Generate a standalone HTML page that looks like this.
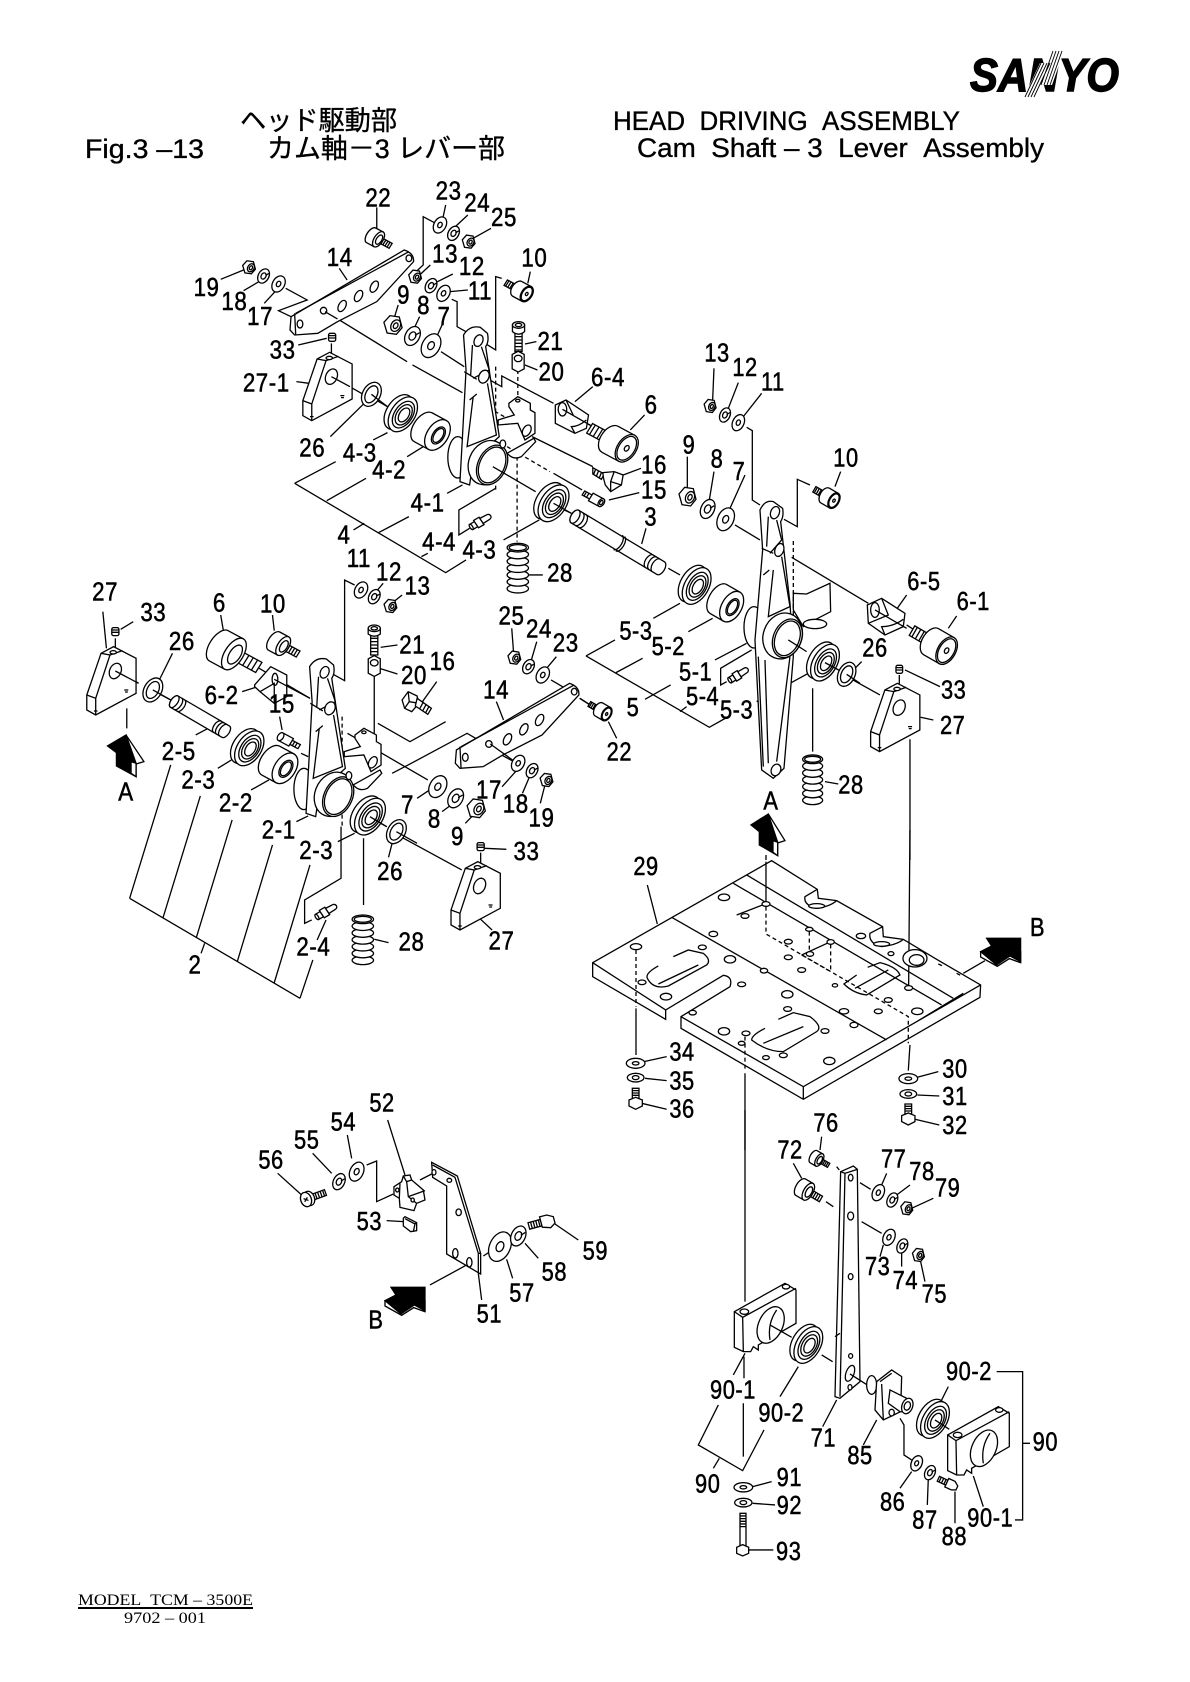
<!DOCTYPE html>
<html><head><meta charset="utf-8"><style>
html,body{margin:0;padding:0;background:#fff}
svg{display:block}
svg *{vector-effect:non-scaling-stroke}
text{fill:#000;stroke:none;font-family:"Liberation Sans","Noto Sans CJK JP",sans-serif;vector-effect:none}
.z text{font-size:78px;letter-spacing:2px;stroke:#000;stroke-width:1.6px}
.h{stroke:#000;stroke-width:.35px}
.l{fill:none}
.d{fill:none;stroke-dasharray:4 3}
.k{fill:#000}
</style></head><body>
<svg width="1190" height="1682" viewBox="0 0 1190 1682" xmlns="http://www.w3.org/2000/svg" fill="#fff" stroke="#000" stroke-width="1.3">
<defs>
<g id="w"><ellipse rx="20" ry="30" transform="rotate(25)"/><ellipse rx="7" ry="10" transform="rotate(25)"/></g>
<g id="lw"><ellipse rx="20" ry="30" transform="rotate(25)"/><ellipse rx="9" ry="13" transform="rotate(25)"/><path d="M7,-2L20,-10" class="l"/></g>
<g id="ri"><ellipse rx="25" ry="38" transform="rotate(25)"/><ellipse rx="16" ry="27" transform="rotate(25)"/></g>
<g id="n"><path d="M-25,-8L-8,-28L18,-24L26,8L10,28L-16,24Z"/><ellipse cx="8" cy="2" rx="13" ry="18" transform="rotate(25 8 2)"/><ellipse cx="8" cy="2" rx="6" ry="9" transform="rotate(25 8 2)"/></g>
<g id="rr"><g transform="rotate(30)"><rect x="-80" y="-11" width="46" height="22"/><path class="l" d="M-74,-11v22M-66,-11v22M-58,-11v22M-50,-11v22M-42,-11v22"/><path d="M0,-30L-36,-30A18,30 0 0 0 -36,30L0,30Z"/><ellipse rx="18" ry="30"/><ellipse rx="15" ry="26"/><ellipse rx="4" ry="6"/></g></g>
<g id="rl"><g transform="rotate(30)"><rect x="6" y="-10" width="40" height="20"/><path class="l" d="M14,-10v20M22,-10v20M30,-10v20M38,-10v20"/><path d="M0,-30L-28,-30A15,30 0 0 0 -28,30L0,30Z"/><ellipse rx="15" ry="30"/><ellipse cx="2" rx="9" ry="18"/></g></g>
<g id="be"><g transform="rotate(30)"><ellipse cx="-14" rx="36" ry="60"/><ellipse rx="36" ry="60"/><ellipse cx="2" rx="27" ry="46"/><ellipse cx="3" rx="21" ry="35"/><ellipse cx="4" rx="14" ry="24"/></g></g>
<g id="wr"><g transform="rotate(30)"><path d="M0,-50L-46,-50A28,50 0 0 0 -46,50L0,50Z"/><ellipse rx="30" ry="50"/><ellipse cx="3" rx="16" ry="28"/><ellipse cx="3" rx="12" ry="23"/></g></g>
<g id="sp"><ellipse cy="136" rx="30" ry="13"/><ellipse cy="115.5" rx="30" ry="13"/><ellipse cy="95" rx="30" ry="13"/><ellipse cy="74.5" rx="30" ry="13"/><ellipse cy="54" rx="30" ry="13"/><ellipse cy="33.5" rx="30" ry="13"/><ellipse cy="13" rx="30" ry="13"/><ellipse cy="13" rx="24" ry="9"/></g>
<g id="ss"><rect x="-10" y="-12" width="20" height="24" rx="5"/><path class="l" d="M-10,-5h20M-10,2h20"/></g>
<g id="gn"><g transform="rotate(-32)"><rect x="-30" y="-9" width="16" height="18"/><rect x="-14" y="-13" width="18" height="26"/><path d="M4,-9L26,-8A8,8 0 0 1 26,8L4,9Z"/><ellipse cx="-30" rx="4" ry="9"/></g></g>
<g id="b27"><path d="M0,0L0,45L25,60L138,-5L138,-110L75,-145L40,-125Z"/><path class="l" d="M0,0L25,10L25,60M25,10L65,-120L40,-125M65,-120L100,-133"/><ellipse cx="80" cy="-72" rx="16" ry="24" transform="rotate(20 80 -72)"/><ellipse cx="74" cy="-128" rx="9" ry="5"/><path class="d" stroke-dasharray="2 2" d="M105,-15h12v6h-10M20,48h10"/></g>
<g id="ar"><path d="M0,0L50,80L28,87L15,72Z"/><path class="k" d="M-52,33L0,0L28,85L28,125L-27,93L-27,53Z"/><path d="M28,85L28,125L14,115L14,80Z"/></g>
<g id="ba"><path d="M-120,40L-120,56L-70,84L-34,61L0,73L0,40Z"/><path class="k" d="M-102,0L0,0L0,70L-32,53L-72,80L-120,40L-87,23Z"/></g>
<g id="pl"><path d="M395,440L712,240Q740,250 738,275L635,395L525,455L470,490L405,495L392,480Z"/><path class="l" d="M408,430L725,245M405,430L408,493"/><ellipse cx="420" cy="462" rx="8" ry="12"/><ellipse cx="486" cy="422" rx="9" ry="10"/><ellipse cx="538" cy="408" rx="10" ry="18" transform="rotate(25 538 408)"/><ellipse cx="584" cy="378" rx="10" ry="18" transform="rotate(25 584 378)"/><ellipse cx="628" cy="350" rx="10" ry="18" transform="rotate(25 628 350)"/><ellipse cx="725" cy="265" rx="8" ry="10"/></g>
<g id="lev"><ellipse cx="862" cy="862" rx="28" ry="62"/><path d="M878,495Q895,465 925,472L945,490Q950,515 940,530L978,800L905,870L895,945L868,935L875,800L885,600Z"/><path class="l" d="M903,525L898,615M928,530L950,600L905,625M880,605L915,628M905,680L888,830L970,795L945,640M915,672L895,690"/><ellipse cx="920" cy="512" rx="12" ry="18" transform="rotate(20 920 512)"/><ellipse cx="935" cy="620" rx="14" ry="20" transform="rotate(20 935 620)"/><ellipse cx="945" cy="878" rx="52" ry="68" transform="rotate(20 945 878)"/><ellipse cx="958" cy="885" rx="40" ry="62" transform="rotate(22 958 885)"/><ellipse cx="958" cy="885" rx="35" ry="56" transform="rotate(22 958 885)"/><path d="M1005,700L1030,680L1065,700L1065,720L1078,728L1078,790L1050,810L1030,760L975,765L975,750L1020,735L1005,710Z"/><ellipse cx="1055" cy="782" rx="11" ry="18" transform="rotate(25 1055 782)"/><ellipse cx="1030" cy="692" rx="6" ry="4"/><path d="M1000,850L1075,805L1080,815L1040,860Q1020,870 1005,855Z"/><ellipse cx="988" cy="822" rx="8" ry="12"/></g>
<g id="bl"><path d="M163,605L315,520L348,540L348,640L235,705L235,720L220,710L212,725L190,725L163,712Z"/><path class="l" d="M163,605L188,622L348,535M188,622L190,725"/><ellipse cx="193" cy="605" rx="13" ry="8"/><ellipse cx="318" cy="530" rx="11" ry="7"/><ellipse cx="272" cy="645" rx="36" ry="58" transform="rotate(25 272 645)"/><path class="l" d="M290,600Q262,640 270,690"/></g>
<g id="bv"><path d="M-14,-18L0,-26L14,-18L14,18L0,26L-14,18Z"/><ellipse cy="-8" rx="9" ry="8"/></g>
</defs>

<!-- header -->
<text class="h" x="613" y="130" font-size="27" textLength="347" lengthAdjust="spacingAndGlyphs">HEAD&#160;&#160;DRIVING&#160;&#160;ASSEMBLY</text>
<text class="h" x="637" y="157" font-size="27" textLength="407" lengthAdjust="spacingAndGlyphs">Cam&#160;&#160;Shaft – 3&#160;&#160;Lever&#160;&#160;Assembly</text>
<text class="h" x="85" y="158" font-size="27" textLength="119" lengthAdjust="spacingAndGlyphs">Fig.3 –13</text>
<text class="h" x="240" y="130" font-size="27" textLength="157" lengthAdjust="spacingAndGlyphs">ヘッド駆動部</text>
<text class="h" x="267" y="158" font-size="27" textLength="238" lengthAdjust="spacingAndGlyphs">カム軸－3 レバー部</text>
<text x="970" y="91" font-size="46" font-weight="bold" font-style="italic" textLength="149" lengthAdjust="spacingAndGlyphs" style="stroke:#000;stroke-width:1.4px">SANYO</text>
<path d="M1024,97L1034,97L1050,63L1040,63Z" stroke="none"/><path d="M1052,51L1064,51L1052,85L1040,85Z" stroke="none"/>
<path class="l" stroke-width=".9" d="M1025,97L1041,63M1028,97L1044,63M1031,97L1047,63M1034,97L1050,63M1053,51L1041,85M1056,51L1044,85M1059,51L1047,85M1062,51L1050,85"/>
<text x="78" y="1605" font-size="15.5" style="font-family:'Liberation Serif',serif" textLength="175" lengthAdjust="spacingAndGlyphs">MODEL&#160;&#160;TCM – 3500E</text>
<path class="l" stroke-width="2" d="M78,1608H253"/>
<text x="124" y="1623" font-size="15.5" style="font-family:'Liberation Serif',serif" textLength="82" lengthAdjust="spacingAndGlyphs">9702 – 001</text>

<!-- top assembly -->
<g class="z" transform="translate(150,170) scale(.3571,.3333)">
<path class="l" d="M635,112L635,180M828,105L820,145M800,160L765,140L765,285L745,305M890,135L855,170M955,175L905,205M530,295L552,330M785,285L755,315M848,312L805,335M890,360L840,365M1065,305L1058,340M198,328L262,300M262,362L305,335M320,400L350,365M695,405L685,440M755,440L742,470M820,460L805,495M380,355L440,390L360,422L395,440M500,430L720,575M735,585L875,668M1070,800L1240,890M815,545L880,590M935,620L985,650L985,618L1130,700M1165,725L1240,770M985,325L968,320L968,540L935,518M845,388L860,395L860,470L885,485M1082,515L1050,522M1085,600L1050,585M415,525L495,505M508,520L508,565M410,635L445,640M510,620L600,675M625,685L665,710M505,800L600,700M625,810L665,788M720,860L765,830M405,940L520,875M495,992L605,925M405,940L828,1208L885,1170M640,1088L725,1040M570,1080L600,1060M760,1160L778,1150M832,970L875,945M990,1110L1090,1050M1140,1010L1180,1030M968,955L865,1020L865,1095L895,1075M1060,1215L1100,1215M1190,695L1240,650M1345,780L1385,735M1325,915L1375,895M1285,990L1370,968M1130,910L1210,960"/>
<path class="d" d="M880,672L1000,745M968,590L968,960M1030,600L1030,680M1028,860L1028,1115M1000,830L1120,905"/>
<use href="#pl"/>
<path class="l" d="M490,425L525,447"/>
<use href="#rl" transform="translate(640,208) scale(.85)"/>
<use href="#w" transform="translate(812,165) scale(.85)"/><use href="#lw" transform="translate(850,190) scale(.75)"/><use href="#n" transform="translate(892,215) scale(.7)"/>
<use href="#n" transform="translate(742,320) scale(.7)"/><use href="#lw" transform="translate(787,347) scale(.75)"/><use href="#w" transform="translate(822,370) scale(.85)"/>
<use href="#n" transform="translate(680,465)"/><use href="#lw" transform="translate(735,498)"/><use href="#w" transform="translate(787,527) scale(1.25)"/>
<use href="#w" transform="translate(360,342) scale(.85)"/><use href="#lw" transform="translate(318,318) scale(.75)"/><use href="#n" transform="translate(277,292) scale(.7)"/>
<use href="#rr" transform="translate(1055,372) scale(.85)"/>
<use href="#ss" transform="translate(510,502)"/>
<use href="#b27" transform="translate(428,692)"/>
<path class="l" d="M508,620L560,650"/>
<use href="#ri" transform="translate(620,673)"/>
<path class="l" d="M620,673L665,710"/>
<use href="#be" transform="translate(708,733) scale(.95)"/>
<use href="#wr" transform="translate(805,795)"/>
<use href="#lev"/>
<path class="l" d="M960,890L1080,965"/>
<use href="#be" transform="translate(1130,1000)"/>
<path class="l" d="M1130,1000L1180,1030"/>
<use href="#sp" transform="translate(1030,1120)"/>
<use href="#gn" transform="translate(925,1055)"/>
<!-- 21 bolt -->
<path d="M1022,490V545H1042V490Z"/><path class="l" d="M1022,500h20M1022,510h20M1022,520h20M1022,530h20M1022,540h20"/><path d="M1015,465L1015,485Q1032,500 1049,485L1049,465Z"/><ellipse cx="1032" cy="465" rx="17" ry="10"/><ellipse cx="1032" cy="465" rx="9" ry="5"/>
<use href="#bv" transform="translate(1031,575) scale(1.2)"/>
<!-- 6-4 -->
<path d="M1135,705L1165,690L1228,735L1222,775L1190,790L1135,760Z"/><ellipse cx="1155" cy="718" rx="12" ry="20"/><path class="l" d="M1165,690L1185,735M1190,790L1180,770Q1200,770 1222,750M1155,718L1240,770"/>
<use href="#rr" transform="translate(1335,835) scale(1.5)"/>
<!-- 16 -->
<path d="M1240,893L1272,912L1264,928L1240,912Z"/><path class="l" d="M1248,898L1242,914M1256,903L1250,919M1264,908L1258,924"/>
<path d="M1268,908L1300,905L1325,915L1320,945L1290,965L1275,945L1270,925Z"/><path class="l" d="M1300,905L1290,935L1320,945M1290,935L1290,965"/>
<!-- 15 -->
<g transform="translate(1250,990) rotate(30)"><rect x="-42" y="-7" width="24" height="14"/><path class="l" d="M-36,-7v14M-28,-7v14"/><rect x="-18" y="-13" width="34" height="26"/><ellipse cx="16" rx="8" ry="13"/><ellipse cx="16" rx="4" ry="7"/></g>
<text transform="matrix(.8 0 0 1 603 110)">22</text><text transform="matrix(.8 0 0 1 800 88)">23</text><text transform="matrix(.8 0 0 1 880 125)">24</text><text transform="matrix(.8 0 0 1 955 168)">25</text><text transform="matrix(.8 0 0 1 495 288)">14</text><text transform="matrix(.8 0 0 1 790 278)">13</text><text transform="matrix(.8 0 0 1 865 315)">12</text><text transform="matrix(.8 0 0 1 1040 290)">10</text><text transform="matrix(.8 0 0 1 122 378)">19</text><text transform="matrix(.8 0 0 1 200 420)">18</text><text transform="matrix(.8 0 0 1 272 465)">17</text><text transform="matrix(.8 0 0 1 692 400)">9</text><text transform="matrix(.8 0 0 1 748 432)">8</text><text transform="matrix(.8 0 0 1 805 465)">7</text><text transform="matrix(.8 0 0 1 890 388)">11</text><text transform="matrix(.8 0 0 1 1085 540)">21</text><text transform="matrix(.8 0 0 1 1088 632)">20</text><text transform="matrix(.8 0 0 1 335 565)">33</text><text transform="matrix(.8 0 0 1 260 665)">27-1</text><text transform="matrix(.8 0 0 1 1235 648)">6-4</text><text transform="matrix(.8 0 0 1 1385 730)">6</text><text transform="matrix(.8 0 0 1 418 860)">26</text><text transform="matrix(.8 0 0 1 540 875)">4-3</text><text transform="matrix(.8 0 0 1 622 925)">4-2</text><text transform="matrix(.8 0 0 1 1375 910)">16</text><text transform="matrix(.8 0 0 1 1375 985)">15</text><text transform="matrix(.8 0 0 1 730 1025)">4-1</text><text transform="matrix(.8 0 0 1 525 1120)">4</text><text transform="matrix(.8 0 0 1 762 1142)">4-4</text><text transform="matrix(.8 0 0 1 875 1165)">4-3</text><text transform="matrix(.8 0 0 1 1112 1235)">28</text>
</g>

<!-- left assembly -->
<g class="z" transform="translate(60,560) scale(.3571,.3333)">
<path class="l" d="M120,155L130,265M205,185L170,208M450,165L458,215M595,165L600,212M315,280L278,360M825,75L797,60L797,362L760,340M905,70L885,95M958,105L935,125M945,255L898,262M945,342L895,325M1055,365L1015,425M880,340L880,520M175,340L220,370M275,400L310,420M550,320L700,415M510,395L548,382M615,470L622,510M675,580L695,590M380,525L415,505M442,625L480,600M535,690L585,660M662,785L695,768M778,845L825,820M805,520L1030,660M1080,485L980,545L890,490M930,640L975,615L1140,520L1180,545M1210,570L1280,610M1455,415L1500,445M1375,360L1415,385M1265,205L1270,275M1335,245L1320,300M1390,290L1365,322M1222,425L1242,480M1238,680L1280,630M1295,700L1315,650M1345,730L1358,675M1000,715L1035,690M1070,755L1095,735M1135,790L1155,768M920,892L930,850M1190,865L1250,868M1178,1078L1210,1110M945,825L1125,930M880,780L915,800M850,835L850,1035M787,800L787,955L685,1020L685,1090L705,1080M195,1015L672,1315M195,1015L310,615M288,1075L393,708M382,1132L482,780M497,1203L595,855M600,1268L700,915M672,1315L708,1200M395,1180L405,1150M720,1140L745,1080M187,445L187,505M155,235L155,265M1178,878L1178,920M880,1138L920,1148"/>
<path class="d" d="M790,470L790,800"/>
<use href="#w" transform="translate(843,90) scale(.85)"/><use href="#lw" transform="translate(880,110) scale(.75)"/><use href="#n" transform="translate(925,138) scale(.7)"/>
<use href="#ss" transform="translate(155,215)"/><use href="#ss" transform="translate(1178,860)"/>
<use href="#b27" transform="translate(75,405)"/><use href="#b27" transform="translate(1095,1050)"/>
<path class="l" d="M155,333L220,370"/>
<use href="#ri" transform="translate(260,390)"/>
<path class="l" d="M260,390L310,420"/>
<use href="#rl" transform="translate(487,282) scale(1.75)"/>
<use href="#rl" transform="translate(625,258) scale(1.05)"/>
<!-- 6-2 -->
<path d="M545,375L590,320L635,345L635,410L600,430L560,395L545,380Z"/><ellipse cx="602" cy="358" rx="8" ry="18"/>
<path class="l" d="M560,395L600,370L600,430M600,358L700,415"/>
<use href="#pl" transform="translate(715,130)"/>
<path class="l" d="M1205,552L1280,610"/>
<!-- shaft 2-5 -->
<g transform="translate(320,425) rotate(32)"><path d="M0,-20L170,-20A10,20 0 0 1 170,20L0,20A10,20 0 0 1 0,-20Z"/><ellipse rx="10" ry="20"/><path class="l" d="M12,-20A10,20 0 0 1 12,20M22,-20A10,20 0 0 1 22,20M142,-20A10,20 0 0 0 142,20M152,-20A10,20 0 0 0 152,20M162,-20A10,20 0 0 0 162,20"/></g>
<use href="#be" transform="translate(530,565) scale(.95)"/>
<use href="#wr" transform="translate(630,625)"/>
<use href="#lev" transform="translate(-179,-175)"/>
<use href="#be" transform="translate(868,770)"/>
<path class="l" d="M868,770L915,800"/>
<use href="#ri" transform="translate(942,815)"/>
<path class="l" d="M942,815L1000,850"/>
<use href="#sp" transform="translate(848,1065)"/>
<use href="#gn" transform="translate(745,1055)"/>
<use href="#w" transform="translate(1058,680) scale(1.15)"/><use href="#lw" transform="translate(1108,715)"/><use href="#n" transform="translate(1165,745)"/>
<use href="#w" transform="translate(1283,610) scale(.85)"/><use href="#lw" transform="translate(1322,632) scale(.75)"/><use href="#n" transform="translate(1362,660) scale(.7)"/>
<use href="#w" transform="translate(1352,345) scale(.85)"/><use href="#lw" transform="translate(1312,320) scale(.75)"/><use href="#n" transform="translate(1272,293) scale(.7)"/>
<path d="M870,225V285H890V225Z"/><path class="l" d="M870,235h20M870,245h20M870,255h20M870,265h20M870,275h20"/><path d="M863,205V222Q880,235 897,222V205Z"/><ellipse cx="880" cy="205" rx="17" ry="10"/><ellipse cx="880" cy="205" rx="9" ry="5"/>
<use href="#bv" transform="translate(880,318) scale(1.2)"/>
<!-- 16 -->
<path d="M958,420L975,395L1000,408L1005,430L985,455L965,445Z"/><path class="l" d="M975,395L978,425L1005,430M978,425L965,445"/>
<path d="M1000,415L1040,445L1030,463L995,438Z"/><path class="l" d="M1018,425L1008,445M1026,432L1016,452M1034,438L1024,458"/>
<g transform="translate(635,540) rotate(30)"><rect x="14" y="-7" width="26" height="14"/><path class="l" d="M22,-7v14M30,-7v14"/><rect x="-20" y="-13" width="34" height="26"/><ellipse cx="-20" rx="8" ry="13"/></g>
<use href="#ar" transform="translate(185,525)"/>
<text transform="matrix(.8 0 0 1 90 122)">27</text><text transform="matrix(.8 0 0 1 225 183)">33</text><text transform="matrix(.8 0 0 1 428 155)">6</text><text transform="matrix(.8 0 0 1 560 158)">10</text><text transform="matrix(.8 0 0 1 305 270)">26</text><text transform="matrix(.8 0 0 1 803 21)">11</text><text transform="matrix(.8 0 0 1 885 62)">12</text><text transform="matrix(.8 0 0 1 965 103)">13</text><text transform="matrix(.8 0 0 1 950 280)">21</text><text transform="matrix(.8 0 0 1 955 372)">20</text><text transform="matrix(.8 0 0 1 1035 330)">16</text><text transform="matrix(.8 0 0 1 1228 193)">25</text><text transform="matrix(.8 0 0 1 1305 233)">24</text><text transform="matrix(.8 0 0 1 1380 275)">23</text><text transform="matrix(.8 0 0 1 1185 415)">14</text><text transform="matrix(.8 0 0 1 405 432)">6-2</text><text transform="matrix(.8 0 0 1 585 458)">15</text><text transform="matrix(.8 0 0 1 285 600)">2-5</text><text transform="matrix(.8 0 0 1 340 685)">2-3</text><text transform="matrix(.8 0 0 1 445 755)">2-2</text><text transform="matrix(.8 0 0 1 565 835)">2-1</text><text transform="matrix(.8 0 0 1 670 897)">2-3</text><text transform="matrix(.8 0 0 1 163 722)">A</text><text transform="matrix(.8 0 0 1 955 760)">7</text><text transform="matrix(.8 0 0 1 1030 803)">8</text><text transform="matrix(.8 0 0 1 1165 715)">17</text><text transform="matrix(.8 0 0 1 1240 758)">18</text><text transform="matrix(.8 0 0 1 1312 800)">19</text><text transform="matrix(.8 0 0 1 1095 855)">9</text><text transform="matrix(.8 0 0 1 1270 900)">33</text><text transform="matrix(.8 0 0 1 888 960)">26</text><text transform="matrix(.8 0 0 1 1200 1168)">27</text><text transform="matrix(.8 0 0 1 948 1172)">28</text><text transform="matrix(.8 0 0 1 662 1187)">2-4</text><text transform="matrix(.8 0 0 1 360 1240)">2</text>
</g>

<!-- right assembly -->
<g class="z" transform="translate(560,340) scale(.3333)">
<path class="l" d="M462,85L458,180M535,128L505,205M605,160L550,230M382,350L382,445M462,395L448,480M555,405L510,505M842,395L825,440M560,262L577,272L577,480L600,495M750,435L712,418L712,560L672,538M525,555L600,600M695,652L925,790M1040,855L1060,868M258,565L245,612M325,685L360,705M280,835L360,790M385,875L458,835M465,960L560,910M255,1078L332,1035M78,948L165,900M168,998L248,955M78,948L448,1162L505,1130M360,1115L380,1100M575,930L482,985L482,1035L500,1025M590,1085L745,1000M845,995L845,995M870,1015L960,1065M1190,828L1165,865M1040,765L1012,805M905,965L885,985M1140,1040L1035,990M1120,1140L1082,1132M1018,1005L1018,1040M1050,1198L1050,1560M758,1045L758,1235M145,1145L170,1195M795,1325L835,1332M60,1075L90,1095M618,1545L618,1560M610,630L640,640"/>
<path class="d" d="M700,603L700,830"/>
<use href="#n" transform="translate(450,198) scale(.7)"/><use href="#lw" transform="translate(495,225) scale(.75)"/><use href="#w" transform="translate(535,248) scale(.85)"/>
<use href="#n" transform="translate(382,470)"/><use href="#lw" transform="translate(443,507)"/><use href="#w" transform="translate(497,538) scale(1.2)"/>
<use href="#rr" transform="translate(822,482) scale(.85)"/>
<!-- shaft 3 -->
<g transform="translate(45,530) rotate(31)"><path d="M0,-22L300,-22A12,22 0 0 1 300,22L0,22A12,22 0 0 1 0,-22Z"/><ellipse rx="12" ry="22"/><path class="l" d="M14,-22A12,22 0 0 1 14,22M26,-22A12,22 0 0 1 26,22M150,-25A12,25 0 0 1 150,25M158,-25A12,25 0 0 1 158,25M260,-22A12,22 0 0 0 260,22M272,-22A12,22 0 0 0 272,22M284,-22A12,22 0 0 0 284,22"/></g>
<use href="#be" transform="translate(410,738)"/>
<use href="#wr" transform="translate(515,800)"/>
<!-- bracket behind lever 5 -->
<path d="M700,760L740,762L810,730L812,815L760,842L730,860L700,810Z"/><ellipse cx="765" cy="852" rx="35" ry="14"/>
<ellipse cx="582" cy="862" rx="30" ry="62"/>
<path d="M600,510Q615,478 640,485L668,505Q672,530 662,545L690,790L700,950L672,1285L640,1315L605,1290L585,900L608,630Z"/>
<path class="l" d="M625,530L620,620M650,540L665,600L630,640M605,625L640,640M640,690L625,830L690,800L665,650M628,690L610,705M615,960L625,1270M690,950L650,1265M595,950L610,1280"/>
<ellipse cx="645" cy="518" rx="13" ry="19" transform="rotate(20 645 518)"/>
<ellipse cx="658" cy="630" rx="13" ry="20" transform="rotate(20 658 630)"/>
<ellipse cx="648" cy="1290" rx="14" ry="18" transform="rotate(25 648 1290)"/>
<ellipse cx="668" cy="888" rx="58" ry="70" transform="rotate(20 668 888)"/>
<ellipse cx="682" cy="895" rx="42" ry="60" transform="rotate(22 682 895)"/>
<ellipse cx="682" cy="895" rx="36" ry="54" transform="rotate(22 682 895)"/>
<path class="l" d="M685,900L740,935"/>
<use href="#be" transform="translate(795,968)"/>
<path class="l" d="M795,968L845,995"/>
<use href="#ri" transform="translate(860,1003)"/>
<path class="l" d="M860,1003L900,1030"/>
<use href="#gn" transform="translate(535,1005)"/>
<use href="#ss" transform="translate(1018,988)"/>
<use href="#b27" transform="translate(932,1175) scale(1.07,1)"/>
<path d="M922,795L965,775L1035,820L1030,860L975,885L925,850Z"/><ellipse cx="945" cy="810" rx="13" ry="22"/><path class="l" d="M965,775L985,825L925,850M975,885L965,860Q1000,860 1030,838M945,810L1040,865"/>
<use href="#rr" transform="translate(1160,932) scale(1.5)"/>
<use href="#rr" transform="translate(140,1122) scale(.75)"/>
<use href="#sp" transform="translate(758,1245)"/>
<use href="#ar" transform="translate(625,1422)"/>
<text transform="matrix(.84 0 0 1 433 65)">13</text><text transform="matrix(.84 0 0 1 517 108)">12</text><text transform="matrix(.84 0 0 1 603 152)">11</text><text transform="matrix(.84 0 0 1 368 340)">9</text><text transform="matrix(.84 0 0 1 452 382)">8</text><text transform="matrix(.84 0 0 1 518 420)">7</text><text transform="matrix(.84 0 0 1 820 380)">10</text><text transform="matrix(.84 0 0 1 253 557)">3</text><text transform="matrix(.84 0 0 1 1042 750)">6-5</text><text transform="matrix(.84 0 0 1 1190 810)">6-1</text><text transform="matrix(.84 0 0 1 907 950)">26</text><text transform="matrix(.84 0 0 1 1143 1075)">33</text><text transform="matrix(.84 0 0 1 1140 1182)">27</text><text transform="matrix(.84 0 0 1 178 898)">5-3</text><text transform="matrix(.84 0 0 1 275 945)">5-2</text><text transform="matrix(.84 0 0 1 357 1022)">5-1</text><text transform="matrix(.84 0 0 1 200 1128)">5</text><text transform="matrix(.84 0 0 1 378 1095)">5-4</text><text transform="matrix(.84 0 0 1 480 1135)">5-3</text><text transform="matrix(.84 0 0 1 140 1262)">22</text><text transform="matrix(.84 0 0 1 835 1360)">28</text><text transform="matrix(.84 0 0 1 610 1408)">A</text>
</g>

<!-- base plate -->
<g class="z" transform="translate(570,830) scale(.3333)">
<path d="M68,398L605,92L742,178L745,205L800,212L938,290L940,320L1000,328L1100,388L1232,465L1230,502L700,808L333,595L333,560L480,470Q490,440 460,436L287,540L287,568L68,440Z"/>
<path class="l" d="M68,398L287,540M333,560L700,770L1232,465M700,770L700,808M305,262L950,630M490,160L1115,525M530,135L1150,505M1040,575L1180,490M742,178L705,200Q700,225 740,235Q780,230 800,212M938,290L900,310Q895,340 935,350Q980,345 1000,328M310,380L355,360L400,370Q425,390 410,405L295,468Q250,480 232,445Q225,430 265,408M265,462L385,405M625,568L670,548L720,560Q760,590 740,605L640,665Q590,665 545,630Q545,615 585,595M580,640L700,590M893,412L930,398Q980,410 990,435L890,495Q850,490 822,462L860,435M855,475L955,420M500,255L585,222M198,535L198,675M525,730L525,960M1020,645L1015,722M1020,0L1016,470M1180,430L1245,392M588,95L588,220M695,375L782,335M222,695L290,680M225,745L290,752M215,820L290,838M1042,742L1105,725M1042,795L1108,798M1035,868L1108,885M232,165L262,282"/>
<path class="d" d="M198,360L198,530M588,230L588,312L1015,560L1015,640M718,305L718,370M782,343L782,425M695,375L782,425M525,620L525,725"/>
<ellipse cx="198" cy="350" rx="17" ry="9"/><ellipse cx="216" cy="457" rx="12" ry="7"/><ellipse cx="397" cy="352" rx="12" ry="7"/><ellipse cx="288" cy="500" rx="17" ry="10"/><ellipse cx="430" cy="312" rx="13" ry="8"/><ellipse cx="462" cy="202" rx="17" ry="10"/><ellipse cx="525" cy="258" rx="12" ry="7"/><ellipse cx="480" cy="388" rx="17" ry="11"/><ellipse cx="515" cy="463" rx="12" ry="7"/><ellipse cx="652" cy="493" rx="17" ry="11"/><ellipse cx="368" cy="548" rx="11" ry="7"/><ellipse cx="462" cy="604" rx="17" ry="11"/><ellipse cx="528" cy="610" rx="12" ry="7"/><ellipse cx="515" cy="640" rx="10" ry="6"/><ellipse cx="588" cy="683" rx="10" ry="6"/><ellipse cx="640" cy="676" rx="12" ry="7"/><ellipse cx="765" cy="603" rx="12" ry="7"/><ellipse cx="778" cy="693" rx="17" ry="11"/><ellipse cx="852" cy="585" rx="12" ry="8"/><ellipse cx="822" cy="544" rx="14" ry="8"/><ellipse cx="925" cy="544" rx="12" ry="7"/><ellipse cx="955" cy="510" rx="12" ry="7"/><ellipse cx="1042" cy="544" rx="17" ry="10"/><ellipse cx="582" cy="422" rx="11" ry="7"/><ellipse cx="695" cy="420" rx="12" ry="7"/><ellipse cx="655" cy="335" rx="12" ry="7"/><ellipse cx="655" cy="382" rx="12" ry="7"/><ellipse cx="720" cy="372" rx="11" ry="7"/><ellipse cx="718" cy="298" rx="11" ry="6"/><ellipse cx="782" cy="336" rx="11" ry="7"/><ellipse cx="795" cy="466" rx="8" ry="5"/><ellipse cx="588" cy="222" rx="12" ry="7"/><ellipse cx="1016" cy="474" rx="12" ry="7"/><ellipse cx="653" cy="537" rx="12" ry="7"/><ellipse cx="873" cy="318" rx="14" ry="8"/><ellipse cx="963" cy="371" rx="9" ry="6"/><ellipse cx="1035" cy="385" rx="36" ry="26"/><ellipse cx="1040" cy="390" rx="22" ry="16"/><ellipse cx="740" cy="228" rx="24" ry="7"/><ellipse cx="935" cy="342" rx="24" ry="7"/>
<path class="d" stroke-dasharray="2 2" d="M1105,402l18,8M1160,430l15,8"/>
<ellipse cx="197" cy="700" rx="28" ry="15"/><ellipse cx="197" cy="700" rx="10" ry="5"/>
<ellipse cx="197" cy="743" rx="25" ry="13"/><ellipse cx="197" cy="743" rx="10" ry="6"/>
<ellipse cx="1015" cy="746" rx="28" ry="15"/><ellipse cx="1015" cy="746" rx="10" ry="5"/>
<ellipse cx="1015" cy="792" rx="25" ry="13"/><ellipse cx="1015" cy="792" rx="10" ry="6"/>
<path d="M187,775H207V805H187Z"/><path class="l" d="M187,782h20M187,789h20M187,796h20"/><path d="M177,810L197,802L217,810V828L197,838L177,828Z"/>
<path d="M1005,822H1025V852H1005Z"/><path class="l" d="M1005,829h20M1005,836h20M1005,843h20"/><path d="M995,857L1015,849L1035,857V875L1015,885L995,875Z"/>
<use href="#ba" transform="translate(1352,325)"/>
<text transform="matrix(.84 0 0 1 190 135)">29</text><text transform="matrix(.84 0 0 1 1380 318)">B</text><text transform="matrix(.84 0 0 1 298 692)">34</text><text transform="matrix(.84 0 0 1 298 778)">35</text><text transform="matrix(.84 0 0 1 298 862)">36</text><text transform="matrix(.84 0 0 1 1117 742)">30</text><text transform="matrix(.84 0 0 1 1117 825)">31</text><text transform="matrix(.84 0 0 1 1117 912)">32</text>
</g>

<!-- sensor bracket -->
<g class="z" transform="translate(240,1100) scale(.3333)">
<path class="l" d="M443,60L495,225M322,105L335,175M218,160L275,220M113,220L185,285M380,195L410,183L410,305L460,282M540,240L575,222M440,362L490,365M945,372L1015,420M855,430L895,475M800,478L818,535M715,520L725,600M730,468L750,455M570,555L680,495"/>
<g transform="translate(200,298) rotate(-20)"><rect x="10" y="-9" width="50" height="18"/><path class="l" d="M22,-9v18M30,-9v18M38,-9v18M46,-9v18M54,-9v18"/><ellipse cx="8" rx="16" ry="22"/><ellipse cx="-2" rx="16" ry="22"/><path class="l" d="M-8,-5L4,5M4,-5L-8,5"/></g>
<use href="#lw" transform="translate(297,245) scale(.85)"/>
<use href="#w" transform="translate(350,215)"/>
<path d="M462,260L485,245L490,228L510,225L515,240L550,270L555,300L530,310L522,332L480,322L478,295L462,285Z"/><path class="l" d="M490,228L500,245L515,240M500,245L505,290L530,310M505,290L555,272M480,250L478,295"/><ellipse cx="472" cy="270" rx="5" ry="6"/><ellipse cx="518" cy="300" rx="5" ry="6"/>
<path d="M495,350L530,368L530,392L512,395L490,378L490,355Z"/><path class="l" d="M495,356L525,372L530,368M525,372L520,395"/>
<path d="M575,187L652,228L722,460L722,522L715,518L620,462L620,258L578,232Z"/><path class="l" d="M578,195L645,232L715,460L715,518M715,460L722,460"/>
<ellipse cx="582" cy="217" rx="6" ry="8"/><ellipse cx="628" cy="241" rx="7" ry="6"/><ellipse cx="656" cy="337" rx="8" ry="10"/><ellipse cx="646" cy="460" rx="8" ry="14"/><ellipse cx="688" cy="487" rx="8" ry="14"/>
<use href="#w" transform="translate(780,440) scale(1.55)"/>
<use href="#lw" transform="translate(835,408) scale(1.05)"/>
<g transform="translate(915,365) rotate(-15)"><rect x="-50" y="-10" width="38" height="20"/><path class="l" d="M-42,-10v20M-34,-10v20M-26,-10v20M-18,-10v20"/><path d="M-12,-18L10,-18L28,-8L28,12L12,22L-12,14Z"/></g>
<use href="#ba" transform="translate(555,562)"/>
<text transform="matrix(.84 0 0 1 388 35)">52</text><text transform="matrix(.84 0 0 1 272 92)">54</text><text transform="matrix(.84 0 0 1 162 145)">55</text><text transform="matrix(.84 0 0 1 55 205)">56</text><text transform="matrix(.84 0 0 1 350 390)">53</text><text transform="matrix(.84 0 0 1 1028 478)">59</text><text transform="matrix(.84 0 0 1 905 542)">58</text><text transform="matrix(.84 0 0 1 808 604)">57</text><text transform="matrix(.84 0 0 1 710 668)">51</text><text transform="matrix(.84 0 0 1 385 685)">B</text>
</g>

<!-- lower right -->
<g class="z" transform="translate(680,1110) scale(.3333)">
<path class="l" d="M425,80L420,120M340,160L365,205M470,170L478,180M438,275L460,290M620,190L605,225M690,225L650,255M760,265L695,295M540,218L572,238M545,335L605,370M610,405L600,440M665,425L665,470M722,455L735,515M195,0L195,575M192,740L192,805M190,880L190,1040M425,735L458,755M195,730L160,795M355,770L300,860M470,870L428,950M590,930L550,1005M805,830L780,880M195,730L195,730M695,1085L660,1135M745,1105L742,1185M825,1145L825,1240M880,1098L910,1190M950,785L1028,785L1028,1230L1005,1230M1028,1000L1050,1000M115,885L55,1005L188,1082L252,960M118,1045L100,1075M660,925L672,945L672,1035L695,1050M218,1130L275,1115M218,1180L285,1185M205,1320L280,1320"/>
<use href="#rl" transform="translate(418,150) scale(.7)"/>
<use href="#rl" transform="translate(385,245) scale(.95)"/>
<path d="M482,185L520,168L532,178L540,815L480,865L465,860Z"/>
<path class="l" d="M495,190L480,860M482,185L495,190L532,178M465,680L480,670"/>
<ellipse cx="512" cy="203" rx="7" ry="10"/><ellipse cx="512" cy="318" rx="9" ry="12"/><ellipse cx="512" cy="500" rx="7" ry="9"/><ellipse cx="512" cy="738" rx="6" ry="7"/><ellipse cx="510" cy="790" rx="12" ry="25" transform="rotate(20 510 790)"/><ellipse cx="510" cy="832" rx="6" ry="8"/>
<path class="l" d="M510,792L570,830"/>
<use href="#w" transform="translate(595,248) scale(.85)"/><use href="#lw" transform="translate(637,270) scale(.75)"/><use href="#n" transform="translate(680,295) scale(.7)"/>
<use href="#w" transform="translate(627,382) scale(.85)"/><use href="#lw" transform="translate(667,408) scale(.75)"/><use href="#n" transform="translate(715,435) scale(.7)"/>
<use href="#bl"/>
<path class="l" d="M270,645L335,682"/>
<use href="#be" transform="translate(385,705)"/>
<ellipse cx="575" cy="825" rx="15" ry="28"/>
<path d="M590,815L635,780L665,800L662,905L610,930L585,900Z"/><path class="l" d="M600,815L635,790M605,822L610,930"/><path d="M630,840L680,865L695,880Q690,910 660,905L625,880Z"/><ellipse cx="682" cy="888" rx="16" ry="24" transform="rotate(20 682 888)"/><ellipse cx="682" cy="888" rx="9" ry="13" transform="rotate(20 682 888)"/>
<ellipse cx="635" cy="908" rx="8" ry="10"/>
<use href="#be" transform="translate(765,930)"/>
<use href="#bl" transform="translate(640,370)"/>
<path class="l" d="M765,930L808,958"/>
<use href="#w" transform="translate(710,1060) scale(.8)"/><use href="#lw" transform="translate(750,1088) scale(.75)"/>
<g transform="translate(815,1125) rotate(25)"><rect x="-44" y="-8" width="28" height="16"/><path class="l" d="M-38,-8v16M-30,-8v16M-22,-8v16"/><path d="M-16,-14L5,-14L18,-5L18,8L5,14L-16,14Z"/></g>
<ellipse cx="190" cy="1132" rx="28" ry="14"/><ellipse cx="190" cy="1132" rx="10" ry="5"/>
<ellipse cx="190" cy="1178" rx="26" ry="13"/><ellipse cx="190" cy="1178" rx="10" ry="6"/>
<path d="M180,1210H198V1310H180Z"/><path class="l" d="M180,1218h18M180,1226h18M180,1234h18M180,1242h18M180,1250h18"/><path d="M170,1312L188,1304L206,1312V1330L188,1338L170,1330Z"/>
<text transform="matrix(.84 0 0 1 400 65)">76</text><text transform="matrix(.84 0 0 1 292 145)">72</text><text transform="matrix(.84 0 0 1 603 172)">77</text><text transform="matrix(.84 0 0 1 688 210)">78</text><text transform="matrix(.84 0 0 1 765 260)">79</text><text transform="matrix(.84 0 0 1 555 495)">73</text><text transform="matrix(.84 0 0 1 638 537)">74</text><text transform="matrix(.84 0 0 1 725 578)">75</text><text transform="matrix(.84 0 0 1 798 810)">90-2</text><text transform="matrix(.84 0 0 1 1058 1022)">90</text><text transform="matrix(.84 0 0 1 90 865)">90-1</text><text transform="matrix(.84 0 0 1 235 935)">90-2</text><text transform="matrix(.84 0 0 1 392 1010)">71</text><text transform="matrix(.84 0 0 1 502 1062)">85</text><text transform="matrix(.84 0 0 1 600 1202)">86</text><text transform="matrix(.84 0 0 1 697 1255)">87</text><text transform="matrix(.84 0 0 1 785 1305)">88</text><text transform="matrix(.84 0 0 1 862 1250)">90-1</text><text transform="matrix(.84 0 0 1 45 1148)">90</text><text transform="matrix(.84 0 0 1 290 1128)">91</text><text transform="matrix(.84 0 0 1 290 1212)">92</text><text transform="matrix(.84 0 0 1 288 1350)">93</text>
</g>
</svg>
</body></html>
